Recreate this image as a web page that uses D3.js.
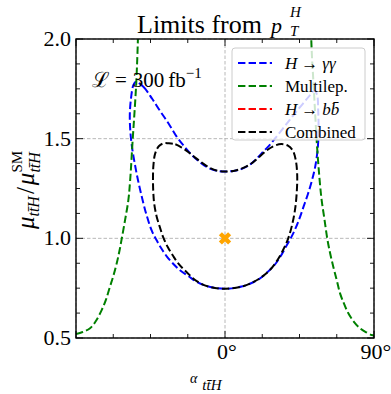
<!DOCTYPE html>
<html><head><meta charset="utf-8">
<script src="https://cdn.jsdelivr.net/npm/d3@7"></script>
<style>body{margin:0;background:#fff} svg{display:block}</style>
</head><body><svg id="c" width="391" height="394"></svg>
<script>
// ---------------- data ----------------
const xTicksMajor = [-90, 0, 90];
const xTickLabels = ["", "0°", "90°"];
const yTicksMajor = [0.5, 1.0, 1.5, 2.0];
const yTickLabels = ["0.5", "1.0", "1.5", "2.0"];
const legendLabels = ["H → γγ", "Multilep.", "H → bb̄", "Combined"];
const seriesColors = ["#0000ff", "#008000", "#ff0000", "#000000"];

const gammaCurve = [
[-53.8,1.785],[-49.3,1.76],[-44,1.70],[-39.3,1.64],[-34,1.575],[-29.2,1.51],[-24,1.455],[-19.1,1.41],
[-14,1.375],[-9.1,1.35],[-4,1.337],[0,1.335],[5,1.338],[9.1,1.345],[15.1,1.37],[19.1,1.40],[23.1,1.435],
[27.2,1.47],[32,1.52],[37.3,1.575],[42,1.625],[47,1.675],[51,1.715],[54,1.74],[55.6,1.72],[56.3,1.64],
[56.5,1.54],[56,1.45],[54.5,1.36],[52.5,1.29],[50,1.22],[47.5,1.16],[45,1.10],[41.5,1.03],[37.3,0.965],
[31.2,0.88],[25,0.825],[19.1,0.788],[10,0.758],[0,0.747],[-10,0.758],[-17.1,0.782],[-22,0.81],[-27.2,0.84],
[-31,0.87],[-35.2,0.91],[-38.5,0.95],[-41.3,0.99],[-44.3,1.04],[-47.5,1.12],[-50.3,1.21],[-52.5,1.29],
[-54.4,1.37],[-56.2,1.46],[-57.2,1.54],[-57.5,1.62],[-56.8,1.70],[-55.3,1.77]];

const multilepLeft = [
[-90,0.52],[-86,0.53],[-81.5,0.549],[-78,0.585],[-74.5,0.64],[-72,0.69],[-69.5,0.757],[-67.5,0.81],
[-65.4,0.875],[-63.8,0.935],[-62.4,0.997],[-60.4,1.09],[-58.4,1.19],[-57.3,1.29],[-55.8,1.49],
[-54.6,1.64],[-53.6,1.78],[-53,1.9],[-52.6,2.0],[-52.3,2.1]];
const multilepRight = [
[51.8,2.1],[52.1,2.0],[52.6,1.9],[53.3,1.8],[54.3,1.65],[55.3,1.5],[56.3,1.38],[57.4,1.27],[58.4,1.19],
[60,1.1],[61.8,0.997],[63.5,0.925],[65.4,0.858],[67.5,0.79],[69.5,0.724],[72,0.67],[74.5,0.624],
[78,0.58],[81.5,0.549],[85,0.53],[88.6,0.515],[90,0.513]];

const bbCurve = [];

const combinedCurve = [
[-34.2,1.477],[-30,1.472],[-26,1.455],[-22,1.432],[-18,1.405],[-14,1.38],[-9,1.353],[-4,1.338],[0,1.335],
[5,1.338],[10,1.35],[15,1.37],[20,1.403],[25,1.44],[29.5,1.463],[34,1.473],[38,1.465],[41,1.44],[42.8,1.39],
[43.6,1.32],[43.4,1.24],[42.4,1.15],[40.6,1.07],[38.2,1.0],[35,0.94],[31.2,0.885],[27,0.84],[22,0.805],
[17,0.78],[10,0.758],[0,0.747],[-10,0.758],[-17.1,0.785],[-23.1,0.83],[-28,0.872],[-31.2,0.91],[-34.5,0.955],
[-37.3,1.005],[-39.5,1.06],[-41.3,1.11],[-42.7,1.17],[-43.3,1.23],[-43.5,1.3],[-43.2,1.37],[-42.2,1.425],
[-40,1.462],[-37,1.477]];

const smPoint = [[0, 1.0]];

// ---------------- layout ----------------
const SERIF = "'Liberation Serif', 'DejaVu Serif', serif";
const svg = d3.select("#c");
const L = 76, R = 374, T = 39, B = 338;
const x = d3.scaleLinear().domain([-90, 90]).range([L, R]);
const y = d3.scaleLinear().domain([0.5, 2.0]).range([B, T]);

svg.append("defs").append("clipPath").attr("id", "clip")
  .append("rect").attr("x", L).attr("y", T).attr("width", R - L).attr("height", B - T);

// grid
const grid = svg.append("g").attr("stroke", "#b0b0b0").attr("stroke-width", 0.9).attr("stroke-dasharray", "3.5,2");
grid.selectAll(".gx").data(xTicksMajor).join("line")
  .attr("x1", d => x(d)).attr("x2", d => x(d)).attr("y1", T).attr("y2", B);
grid.selectAll(".gy").data(yTicksMajor).join("line")
  .attr("x1", L).attr("x2", R).attr("y1", d => y(d)).attr("y2", d => y(d));

// curves
const plot = svg.append("g").attr("clip-path", "url(#clip)");
const closedLine = d3.line().x(d => x(d[0])).y(d => y(d[1])).curve(d3.curveCatmullRomClosed.alpha(0.5));
const openLine = d3.line().x(d => x(d[0])).y(d => y(d[1])).curve(d3.curveCatmullRom.alpha(0.5));
const dash = "7.4,3.2";
function drawPath(data, gen, color) {
  if (!data.length) return;
  plot.append("path").datum(data).attr("d", gen).attr("fill", "none")
    .attr("stroke", color).attr("stroke-width", 2).attr("stroke-dasharray", dash);
}
drawPath(gammaCurve, closedLine, seriesColors[0]);
drawPath(multilepLeft, openLine, seriesColors[1]);
drawPath(multilepRight, openLine, seriesColors[1]);
drawPath(bbCurve, closedLine, seriesColors[2]);
drawPath(combinedCurve, closedLine, seriesColors[3]);

// SM marker
plot.selectAll(".sm").data(smPoint).join("path")
  .attr("d", d3.symbol(d3.symbolCross, 95)())
  .attr("transform", d => `translate(${x(d[0])},${y(d[1])}) rotate(45)`)
  .attr("fill", "#ffa500");

// axes with inward ticks
const axes = svg.append("g");
const xMinor = d3.range(-90, 90.01, 22.5);
const yMinor = d3.range(0.5, 2.001, 0.125);
const tk = axes.append("g").attr("stroke", "#000").attr("stroke-width", 0.9);
xMinor.forEach(v => {
  const len = xTicksMajor.includes(v) ? 7 : 4;
  tk.append("line").attr("x1", x(v)).attr("x2", x(v)).attr("y1", B).attr("y2", B - len);
  tk.append("line").attr("x1", x(v)).attr("x2", x(v)).attr("y1", T).attr("y2", T + len);
});
yMinor.forEach(v => {
  const len = yTicksMajor.some(m => Math.abs(m - v) < 1e-6) ? 7 : 4;
  tk.append("line").attr("x1", L).attr("x2", L + len).attr("y1", y(v)).attr("y2", y(v));
  tk.append("line").attr("x1", R).attr("x2", R - len).attr("y1", y(v)).attr("y2", y(v));
});
axes.append("rect").attr("x", L).attr("y", T).attr("width", R - L).attr("height", B - T)
  .attr("fill", "none").attr("stroke", "#000").attr("stroke-width", 1.4);

// tick labels
axes.selectAll(".yl").data(yTicksMajor).join("text")
  .attr("x", L - 5).attr("y", d => y(d) + 7).attr("text-anchor", "end")
  .attr("font-family", SERIF).attr("font-size", 22).text((d, i) => yTickLabels[i]);
axes.selectAll(".xl").data(xTicksMajor).join("text")
  .attr("x", d => x(d) + 2).attr("y", 359).attr("text-anchor", "middle")
  .attr("font-family", SERIF).attr("font-size", 22).text((d, i) => xTickLabels[i]);

// math text helper
function mathText(g, px, py, parts, anchor) {
  const grp = g.append("g");
  const nodes = parts.map(p => {
    const n = grp.append("text").attr("font-family", p.f || SERIF).attr("font-size", p.s)
      .attr("font-style", p.it ? "italic" : "normal").attr("fill", "#000").text(p.t);
    return { n, w: n.node().getComputedTextLength(), p };
  });
  let cx = 0, prevStart = 0;
  nodes.forEach(o => {
    let sx;
    if (o.p.stack) { sx = prevStart; cx = Math.max(cx, sx + o.w); }
    else { cx += (o.p.gap || 0); sx = cx; cx = sx + o.w; prevStart = sx; }
    o.n.attr("x", sx).attr("y", o.p.dy || 0);
  });
  const off = anchor === "middle" ? -cx / 2 : anchor === "end" ? -cx : 0;
  grp.attr("transform", `translate(${px + off},${py})`);
  return grp;
}

// title
mathText(svg, 137, 33, [
  { t: "Limits from", s: 26 },
  { t: "p", s: 22, it: true, gap: 9 },
  { t: "H", s: 15, it: true, dy: -16, gap: 8 },
  { t: "T", s: 15, it: true, dy: 3, stack: true }
], "start");

// luminosity
mathText(svg, 92, 87, [
  { t: "ℒ", s: 21, f: "'DejaVu Serif', serif" },
  { t: "=", s: 21, gap: 5 },
  { t: "300", s: 21, gap: 6 },
  { t: "fb", s: 21, gap: 4 },
  { t: "−1", s: 15, dy: -9 }
], "start");

// y label
const yl = svg.append("g").attr("transform", "translate(34,190) rotate(-90)");
mathText(yl, 0, 0, [
  { t: "μ", s: 25, it: true },
  { t: "tt̄H", s: 16, it: true, dy: 5 },
  { t: "/", s: 25, gap: 2 },
  { t: "μ", s: 25, it: true, gap: 2 },
  { t: "SM", s: 15, dy: -12 },
  { t: "tt̄H", s: 16, it: true, dy: 6, stack: true }
], "middle");

// x label
mathText(svg, 190, 390, [
  { t: "α", s: 14, it: true, dy: -7 },
  { t: "tt̄H", s: 15, it: true, gap: 5 }
], "start");

// legend
const lg = svg.append("g");
lg.append("rect").attr("x", 232).attr("y", 48).attr("width", 133).attr("height", 92)
  .attr("rx", 3).attr("fill", "#fff").attr("fill-opacity", 0.8).attr("stroke", "#cccccc").attr("stroke-width", 1);
const rowY = [63, 86, 109, 132];
const legendParts = [
  [{ t: "H", s: 17, it: true }, { t: "→", s: 17, gap: 4 }, { t: "γγ", s: 17, it: true, gap: 4 }],
  [{ t: "Multilep.", s: 17 }],
  [{ t: "H", s: 17, it: true }, { t: "→", s: 17, gap: 4 }, { t: "bb̄", s: 17, it: true, gap: 4 }],
  [{ t: "Combined", s: 17 }]
];
legendLabels.forEach((lab, i) => {
  lg.append("line").attr("x1", 238).attr("x2", 272).attr("y1", rowY[i]).attr("y2", rowY[i])
    .attr("stroke", seriesColors[i]).attr("stroke-width", 2).attr("stroke-dasharray", dash);
  mathText(lg, 285, rowY[i] + 6, legendParts[i], "start");
});
</script></body></html>
